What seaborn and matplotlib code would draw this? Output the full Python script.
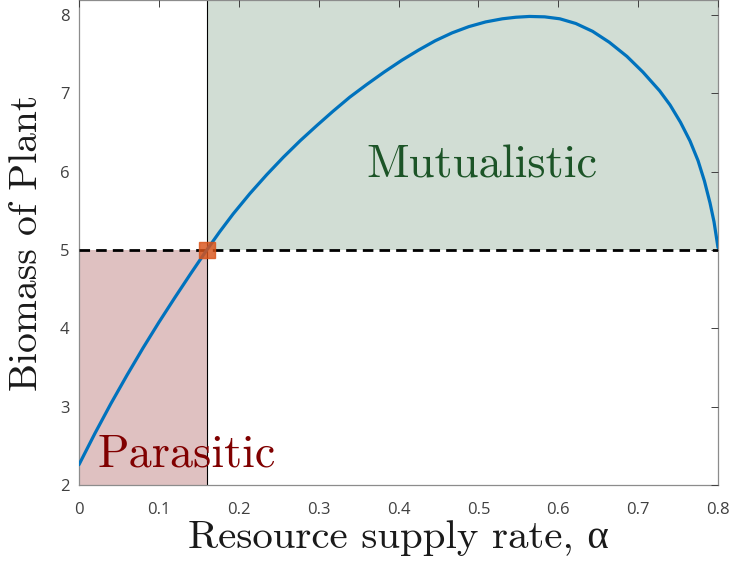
import matplotlib
matplotlib.use("Agg")
import matplotlib.pyplot as plt
import seaborn as sns
import pandas as pd

# ---- data ----
alpha = [0.0, 0.02, 0.04, 0.06, 0.08, 0.10, 0.12, 0.14, 0.16, 0.176, 0.193,
         0.214, 0.235, 0.256, 0.277, 0.298, 0.318, 0.339, 0.36, 0.382, 0.404,
         0.425, 0.446, 0.467, 0.488, 0.509, 0.53, 0.547, 0.564, 0.583, 0.602,
         0.622, 0.643, 0.664, 0.686, 0.706, 0.727, 0.74, 0.753, 0.765, 0.775,
         0.783, 0.79, 0.795, 0.8]
biomass = [2.26, 2.66, 3.04, 3.40, 3.746, 4.076, 4.392, 4.70, 5.0, 5.23, 5.46,
           5.72, 5.96, 6.185, 6.395, 6.59, 6.77, 6.95, 7.11, 7.27, 7.42,
           7.55, 7.67, 7.77, 7.85, 7.91, 7.95, 7.97, 7.98, 7.975, 7.95,
           7.89, 7.79, 7.65, 7.47, 7.27, 7.03, 6.85, 6.63, 6.39, 6.14,
           5.88, 5.60, 5.36, 5.03]
alpha_crit = 0.16          # transition point
biomass_alone = 5.0        # biomass threshold (dashed line)
x_ticks = [0, 0.1, 0.2, 0.3, 0.4, 0.5, 0.6, 0.7, 0.8]
x_ticklabels = ["0", "0.1", "0.2", "0.3", "0.4", "0.5", "0.6", "0.7", "0.8"]
y_ticks = [2, 3, 4, 5, 6, 7, 8]
x_range = (0, 0.8)
y_range = (2, 8.19)

sns.set_style("white")
plt.rcParams["font.family"] = ["Open Sans", "DejaVu Sans"]
plt.rcParams["axes.unicode_minus"] = False

fig = plt.figure(figsize=(7.33, 5.67), dpi=100)
ax = fig.add_axes([79 / 733, 1 - 485 / 567, 639 / 733, 485 / 567])
ax.set_axisbelow(False)

# shaded regions
ax.fill_between([x_range[0], alpha_crit], y_range[0], biomass_alone,
                color="#DFC1C1", lw=0, zorder=1)
ax.fill_between([alpha_crit, x_range[1]], biomass_alone, y_range[1],
                color="#D1DDD4", lw=0, zorder=1)

# vertical line at critical alpha
ax.axvline(alpha_crit, color="black", lw=0.8, zorder=2)
# dashed threshold line
ax.axhline(biomass_alone, color="black", lw=2.0, ls=(0, (3.8, 2.2)), zorder=3)

df = pd.DataFrame({"alpha": alpha, "biomass": biomass})
sns.lineplot(data=df, x="alpha", y="biomass", sort=False, estimator=None,
             color="#0072BD", lw=2.3, ax=ax, zorder=4)

ax.plot([alpha_crit], [biomass_alone], marker="s", ms=11.5, color="#D95319",
        mec="#D95319", alpha=0.82, ls="none", zorder=5)

serif = ["cmr10", "Liberation Serif"]
ax.text(0.505, 5.93, "Mutualistic", color="#1C5427", fontsize=33.5,
        family=serif, ha="center", va="baseline", zorder=6)
ax.text(0.1345, 2.23, "Parasitic", color="#800000", fontsize=33.3,
        family=serif, ha="center", va="baseline", zorder=6)

ax.set_xlim(*x_range)
ax.set_ylim(*y_range)
ax.set_xticks(x_ticks)
ax.set_xticklabels(x_ticklabels)
ax.set_yticks(y_ticks)

ax.tick_params(direction="in", length=5, width=0.7, colors="#404040",
               labelsize=12, top=True, right=True)
ax.tick_params(axis="x", pad=12)
ax.tick_params(axis="y", pad=7)
for s in ax.spines.values():
    s.set_color("#8C8C8C")
    s.set_linewidth(0.9)
    s.set_visible(True)

ax.set_xlabel("Resource supply rate, α", family=serif, fontsize=29.5,
              color="#1a1a1a")
ax.set_ylabel("Biomass of Plant", family=serif, fontsize=28.5, color="#1a1a1a")
ax.xaxis.set_label_coords(0.5, -0.072)
ax.yaxis.set_label_coords(-0.053, 0.5)

fig.savefig("out.png", dpi=100)
